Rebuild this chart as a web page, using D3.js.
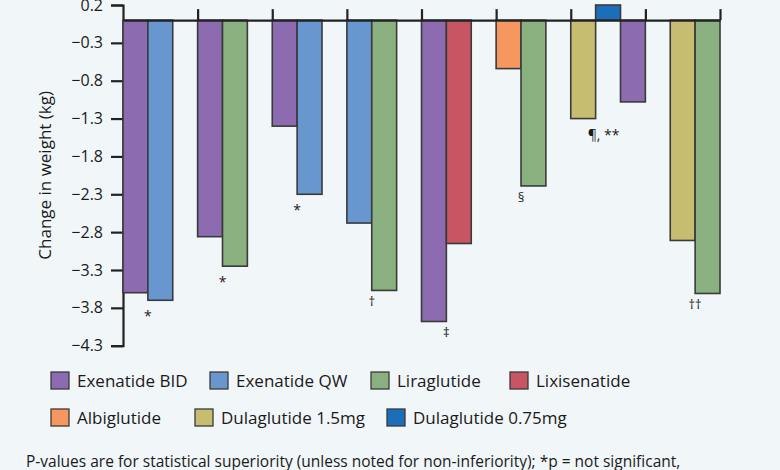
<!DOCTYPE html>
<html>
<head>
<meta charset="utf-8">
<script src="https://cdn.jsdelivr.net/npm/d3@7"></script>
<style>
  html, body { margin: 0; padding: 0; background: #f1f6f9; }
  svg { display: block; }
  text { font-family: "Open Sans", "Noto Sans", sans-serif; fill: #1a1a1a; }
</style>
</head>
<body>
<svg id="chart" width="780" height="470"></svg>
<script>
// ---- data ----
const seriesNames = ["Exenatide BID", "Exenatide QW", "Liraglutide", "Lixisenatide",
                     "Albiglutide", "Dulaglutide 1.5mg", "Dulaglutide 0.75mg"];
const seriesColors = ["#8c6bb0", "#6897cf", "#8bb07f", "#c85562", "#f6975f", "#c6bd71", "#1a6fb8"];
const groups = [0, 1, 2, 3, 4, 5, 6, 7];
const barGroup  = [0, 0, 1, 1, 2, 2, 3, 3, 4, 4, 5, 5, 6, 6, 6, 7, 7];
const barSlot   = [0, 1, 0, 1, 0, 1, 0, 1, 0, 1, 0, 1, 0, 1, 2, 1, 2];
const barSeries = [0, 1, 0, 2, 0, 1, 1, 2, 0, 3, 4, 2, 5, 6, 0, 5, 2];
const barValues = [-3.60, -3.70, -2.86, -3.25, -1.40, -2.30, -2.68, -3.57, -3.98, -2.95,
                   -0.64, -2.19, -1.30, 0.20, -1.08, -2.91, -3.61];
const yTicks = [0.2, -0.3, -0.8, -1.3, -1.8, -2.3, -2.8, -3.3, -3.8, -4.3];
const annoText = ["*", "*", "*", "\u2020", "\u2021", "\u00a7", "\u00b6, **", "\u2020\u2020"];
const annoBar  = [1, 3, 5, 7, 9, 11, 13, 16];
const legendRows = [[0, 1, 2, 3], [4, 5, 6]];
const footnote = "P-values are for statistical superiority (unless noted for non-inferiority); *p = not significant,";

// ---- layout ----
const svg = d3.select("#chart");
const plotL = 123, plotR = 720, plotT = 5, plotB = 345.7;

const y = d3.scaleLinear().domain([-4.3, 0.2]).range([plotB, plotT]);
const x = d3.scaleBand().domain(groups).range([plotL, plotR]).padding(0);
const slot = d3.scaleBand().domain([0, 1, 2]).range([0, x.bandwidth()]).padding(0);

// y axis
const yAxis = svg.append("g").attr("transform", `translate(${plotL},0)`)
  .call(d3.axisLeft(y).tickValues(yTicks).tickFormat(d3.format(".1f")).tickSizeOuter(0).tickSize(12).tickPadding(8));
yAxis.select(".domain").attr("stroke", "#222").attr("stroke-width", 2.2);
yAxis.selectAll(".tick line").attr("stroke", "#222").attr("stroke-width", 2.2);
yAxis.selectAll(".tick text").attr("font-size", 16).attr("font-family", "Open Sans, sans-serif").attr("fill", "#1a1a1a");

// y title
svg.append("text")
  .attr("transform", `translate(51,${(plotT + plotB) / 2}) rotate(-90)`)
  .attr("text-anchor", "middle")
  .attr("font-size", 17)
  .text("Change in weight (kg)");

// bars
const bars = barValues.map((v, i) => ({ v, g: barGroup[i], s: barSlot[i], k: barSeries[i] }));
svg.append("g").selectAll("rect").data(bars).join("rect")
  .attr("x", d => x(d.g) + slot(d.s))
  .attr("width", slot.bandwidth())
  .attr("y", d => y(Math.max(0, d.v)))
  .attr("height", d => Math.abs(y(d.v) - y(0)))
  .attr("fill", d => seriesColors[d.k])
  .attr("stroke", "#3a3a3a")
  .attr("stroke-width", 1.6);

// zero line + group ticks
const xAxis = svg.append("g").attr("transform", `translate(0,${y(0)})`)
  .call(d3.axisTop(d3.scaleLinear().domain([0, groups.length]).range([plotL, plotR]))
    .tickValues(d3.range(1, groups.length + 1)).tickFormat("").tickSize(11).tickSizeOuter(0));
xAxis.select(".domain").attr("stroke", "#222").attr("stroke-width", 2.2);
xAxis.selectAll(".tick line").attr("stroke", "#222").attr("stroke-width", 2.2);

// annotations
annoText.forEach((t, i) => {
  const b = bars[annoBar[i]];
  const gv = d3.min(bars.filter(d => d.g === b.g), d => d.v);
  const xb = x(b.g) + slot(b.s);
  const isStar = t === "*";
  const long = t.length > 2;
  svg.append("text")
    .attr("x", long ? xb - 8 : xb)
    .attr("y", y(gv) + (isStar || long ? 21 : 16))
    .attr("text-anchor", long ? "start" : "middle")
    .attr("font-family", "DejaVu Sans, sans-serif")
    .attr("fill", "#1a1a1a")
    .attr("font-size", isStar || long ? 14 : 13)
    .text(t);
});

// legend
const legX = [[51, 210, 371, 510], [51, 195, 387]];
const legY = [372, 409];
legendRows.forEach((row, r) => {
  row.forEach((k, j) => {
    const g = svg.append("g").attr("transform", `translate(${legX[r][j]},${legY[r]})`);
    g.append("rect").attr("width", 18).attr("height", 17)
      .attr("fill", seriesColors[k]).attr("stroke", "#3a3a3a").attr("stroke-width", 1.3);
    g.append("text").attr("x", 26).attr("y", 14.5).attr("font-size", 17).text(seriesNames[k]);
  });
});

// footnote
svg.append("text").attr("x", 26).attr("y", 466.5).attr("font-size", 15.5).text(footnote);
</script>
</body>
</html>
